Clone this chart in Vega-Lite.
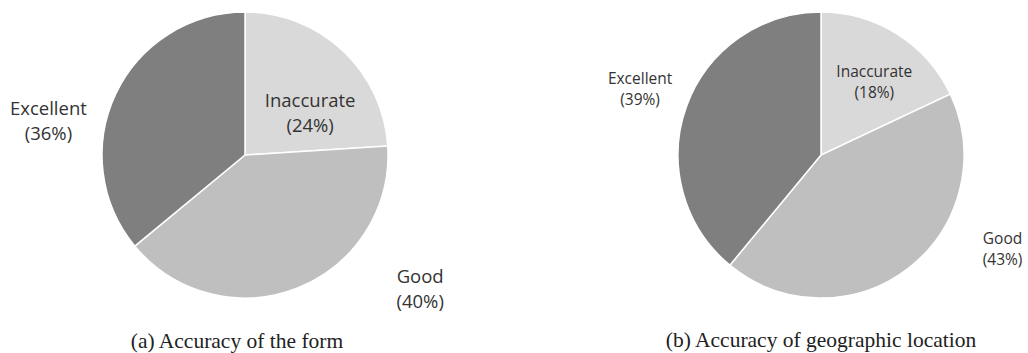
{
  "$schema": "https://vega.github.io/schema/vega-lite/v6.json",
  "padding": 0,
  "background": "white",
  "spacing": 128,
  "bounds": "flush",
  "config": {
    "view": {"stroke": null},
    "title": {"font": "Liberation Serif", "fontSize": 21.5, "fontWeight": "normal", "color": "#222222", "orient": "bottom", "offset": 20, "frame": "group"},
    "text": {"font": "Open Sans", "color": "#333333"}
  },
  "datasets": {
    "a": [
      {"category": "Inaccurate", "value": 24, "label": "Inaccurate\n(24%)"},
      {"category": "Good", "value": 40, "label": "Good\n(40%)"},
      {"category": "Excellent", "value": 36, "label": "Excellent\n(36%)"}
    ],
    "b": [
      {"category": "Inaccurate", "value": 18, "label": "Inaccurate\n(18%)"},
      {"category": "Good", "value": 43, "label": "Good\n(43%)"},
      {"category": "Excellent", "value": 39, "label": "Excellent\n(39%)"}
    ]
  },
  "hconcat": [
    {
      "width": 490,
      "height": 310,
      "title": {"text": "(a) Accuracy of the form", "dx": -8, "frame": "group", "orient": "bottom", "offset": 20},
      "data": {"name": "a"},
      "encoding": {
        "theta": {"field": "value", "type": "quantitative", "stack": true},
        "order": {"field": "category", "type": "nominal", "sort": "descending"}
      },
      "layer": [
        {
          "mark": {"type": "arc", "outerRadius": 143, "stroke": "white", "strokeWidth": 1.5},
          "encoding": {
            "color": {"field": "category", "type": "nominal", "legend": null,
              "scale": {"domain": ["Inaccurate", "Good", "Excellent"], "range": ["#d9d9d9", "#bfbfbf", "#7f7f7f"]}}
          }
        },
        {
          "mark": {"type": "text", "radius": 120, "lineBreak": "\n", "fontSize": 18.5, "lineHeight": 25,
            "dx": {"expr": "datum.category === 'Inaccurate' ? -17 : datum.category === 'Good' ? 131 : -88"},
            "dy": {"expr": "datum.category === 'Inaccurate' ? 33 : datum.category === 'Good' ? 10 : 5"}},
          "encoding": {"text": {"field": "label", "type": "nominal"}}
        }
      ]
    },
    {
      "width": 406,
      "height": 310,
      "title": {"text": "(b) Accuracy of geographic location", "frame": "group", "orient": "bottom", "offset": 20},
      "data": {"name": "b"},
      "encoding": {
        "theta": {"field": "value", "type": "quantitative", "stack": true},
        "order": {"field": "category", "type": "nominal", "sort": "descending"}
      },
      "layer": [
        {
          "mark": {"type": "arc", "outerRadius": 143, "stroke": "white", "strokeWidth": 1.5},
          "encoding": {
            "color": {"field": "category", "type": "nominal", "legend": null,
              "scale": {"domain": ["Inaccurate", "Good", "Excellent"], "range": ["#d9d9d9", "#bfbfbf", "#7f7f7f"]}}
          }
        },
        {
          "mark": {"type": "text", "radius": 120, "lineBreak": "\n", "fontSize": 15.5, "lineHeight": 21,
            "dx": {"expr": "datum.category === 'Inaccurate' ? -11 : datum.category === 'Good' ? 108 : -68"},
            "dy": {"expr": "datum.category === 'Inaccurate' ? 18 : datum.category === 'Good' ? -11 : -35"}},
          "encoding": {"text": {"field": "label", "type": "nominal"}}
        }
      ]
    }
  ]
}
